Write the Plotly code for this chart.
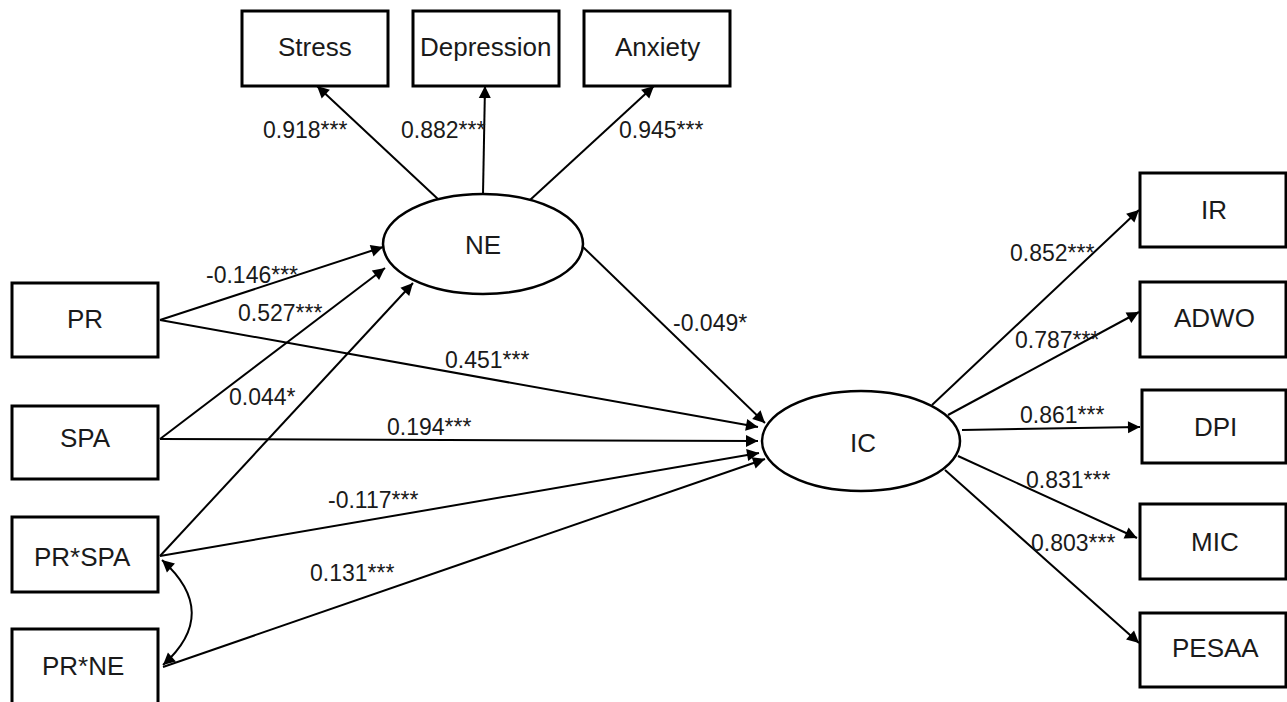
import plotly.graph_objects as go

# ---------------- data ----------------
ne_indicators = ["Stress", "Depression", "Anxiety"]
ne_loadings = [0.918, 0.882, 0.945]
ne_sig = ["***", "***", "***"]

ic_indicators = ["IR", "ADWO", "DPI", "MIC", "PESAA"]
ic_loadings = [0.852, 0.787, 0.861, 0.831, 0.803]
ic_sig = ["***", "***", "***", "***", "***"]

predictors = ["PR", "SPA", "PR*SPA", "PR*NE"]
latents = ["NE", "IC"]

path_from = ["PR", "PR", "SPA", "SPA", "PR*SPA", "PR*SPA", "PR*NE", "NE"]
path_to = ["NE", "IC", "NE", "IC", "NE", "IC", "IC", "IC"]
path_coef = [-0.146, 0.451, 0.527, 0.194, 0.044, -0.117, 0.131, -0.049]
path_sig = ["***", "***", "***", "***", "*", "***", "***", "*"]

# ---------------- layout (pixel geometry) ----------------
W, H = 1287, 702
box_geom = {
    "Stress": (242, 388, 11, 86), "Depression": (413, 559, 11, 86), "Anxiety": (584, 730, 11, 86),
    "PR": (12, 158, 283, 357), "SPA": (12, 158, 406, 479),
    "PR*SPA": (12, 158, 517, 592), "PR*NE": (12, 158, 629, 706),
    "IR": (1140, 1286, 173, 247), "ADWO": (1140, 1286, 282, 357), "DPI": (1142, 1286, 390, 463),
    "MIC": (1140, 1286, 504, 579), "PESAA": (1140, 1286, 613, 687),
}
ellipse_geom = {"NE": (483, 244, 100, 50), "IC": (861, 441, 99, 50)}

# edge anchor points (tail, tip)
edge_geom = {
    ("NE", "Stress"): ((439, 200), (317, 86)),
    ("NE", "Depression"): ((483, 194), (485, 86)),
    ("NE", "Anxiety"): ((530, 200), (654, 86)),
    ("PR", "NE"): ((160, 320), (383, 247)),
    ("PR", "IC"): ((160, 320), (758, 427)),
    ("SPA", "NE"): ((160, 439), (385, 268)),
    ("SPA", "IC"): ((160, 439), (758, 441)),
    ("PR*SPA", "NE"): ((160, 556), (413, 283)),
    ("PR*SPA", "IC"): ((160, 556), (759, 453)),
    ("PR*NE", "IC"): ((163, 667), (765, 459)),
    ("NE", "IC"): ((583, 247), (765, 423)),
    ("IC", "IR"): ((932, 405), (1139, 210)),
    ("IC", "ADWO"): ((948, 415), (1139, 312)),
    ("IC", "DPI"): ((962, 430), (1140, 427)),
    ("IC", "MIC"): ((958, 456), (1137, 538)),
    ("IC", "PESAA"): ((945, 470), (1139, 643)),
}
label_geom = {
    ("NE", "Stress"): (305, 130), ("NE", "Depression"): (443, 130), ("NE", "Anxiety"): (661, 130),
    ("PR", "NE"): (252, 275), ("SPA", "NE"): (280, 313), ("PR", "IC"): (487, 360),
    ("PR*SPA", "NE"): (262, 397), ("SPA", "IC"): (429, 427), ("PR*SPA", "IC"): (373, 500),
    ("PR*NE", "IC"): (352, 573), ("NE", "IC"): (710, 323),
    ("IC", "IR"): (1052, 253), ("IC", "ADWO"): (1057, 340), ("IC", "DPI"): (1062, 415),
    ("IC", "MIC"): (1068, 480), ("IC", "PESAA"): (1073, 543),
}
text_pos = {
    "Stress": (315, 47), "Depression": (486, 47), "Anxiety": (657, 47),
    "PR": (85, 319), "SPA": (85, 438), "PR*SPA": (82, 557), "PR*NE": (83, 666),
    "IR": (1214, 210), "ADWO": (1214, 318), "DPI": (1215, 427), "MIC": (1215, 542), "PESAA": (1215, 648),
    "NE": (483, 245), "IC": (863, 443),
}

FONT = "Liberation Sans, Arial, sans-serif"
TXT = "#1a1a1a"

fig = go.Figure()
shapes = []
annotations = []

# edges (drawn first)
edges = []
for name, val, s in zip(ne_indicators, ne_loadings, ne_sig):
    edges.append(("NE", name, f"{val:.3f}{s}"))
for f, t, val, s in zip(path_from, path_to, path_coef, path_sig):
    edges.append((f, t, f"{val:.3f}{s}"))
for name, val, s in zip(ic_indicators, ic_loadings, ic_sig):
    edges.append(("IC", name, f"{val:.3f}{s}"))

for f, t, lab in edges:
    (x0, y0), (x1, y1) = edge_geom[(f, t)]
    fig.add_trace(go.Scatter(x=[x0, x1], y=[y0, y1], mode="lines",
                             line=dict(color="black", width=2), hoverinfo="skip", showlegend=False))
    dx, dy = x1 - x0, y1 - y0
    L = (dx * dx + dy * dy) ** 0.5
    annotations.append(dict(x=x1, y=y1, ax=x1 - dx / L * 14, ay=y1 - dy / L * 14,
                            xref="x", yref="y", axref="x", ayref="y", text="",
                            showarrow=True, arrowhead=2, arrowsize=1.2, arrowwidth=2,
                            arrowcolor="black", standoff=0))
    lx, ly = label_geom[(f, t)]
    annotations.append(dict(x=lx, y=ly, xref="x", yref="y", text=lab, showarrow=False,
                            font=dict(family=FONT, size=23, color=TXT)))

# covariance curve between PR*SPA and PR*NE
p0, c, p2 = (162, 560), (221, 613), (163, 665)
shapes.append(dict(type="path", xref="x", yref="y",
                   path=f"M {p0[0]},{p0[1]} Q {c[0]},{c[1]} {p2[0]},{p2[1]}",
                   line=dict(color="black", width=2)))
for tip in (p0, p2):
    dx, dy = tip[0] - c[0], tip[1] - c[1]
    L = (dx * dx + dy * dy) ** 0.5
    annotations.append(dict(x=tip[0], y=tip[1], ax=tip[0] - dx / L * 12, ay=tip[1] - dy / L * 12,
                            xref="x", yref="y", axref="x", ayref="y", text="",
                            showarrow=True, arrowhead=2, arrowsize=1.2, arrowwidth=2,
                            arrowcolor="black", standoff=0))

# boxes
for name, (x0, x1, y0, y1) in box_geom.items():
    shapes.append(dict(type="rect", xref="x", yref="y", x0=x0, x1=x1, y0=y0, y1=y1,
                       line=dict(color="black", width=3), fillcolor="rgba(0,0,0,0)"))
# ellipses
for name, (cx, cy, rx, ry) in ellipse_geom.items():
    shapes.append(dict(type="circle", xref="x", yref="y", x0=cx - rx, x1=cx + rx,
                       y0=cy - ry, y1=cy + ry, line=dict(color="black", width=2.5),
                       fillcolor="white"))

# node texts
for name in ne_indicators + predictors + ic_indicators + latents:
    x, y = text_pos[name]
    annotations.append(dict(x=x, y=y, xref="x", yref="y", text=name, showarrow=False,
                            font=dict(family=FONT, size=26, color=TXT)))

fig.update_layout(
    width=W, height=H, margin=dict(l=0, r=0, t=0, b=0),
    paper_bgcolor="white", plot_bgcolor="white",
    xaxis=dict(range=[0, W], visible=False, fixedrange=True),
    yaxis=dict(range=[H, 0], visible=False, fixedrange=True),
    shapes=shapes, annotations=annotations, showlegend=False,
)
fig.write_html("out.html", config={"displayModeBar": False},
               post_script="document.body.style.margin='0px';document.body.style.overflow='hidden';")
